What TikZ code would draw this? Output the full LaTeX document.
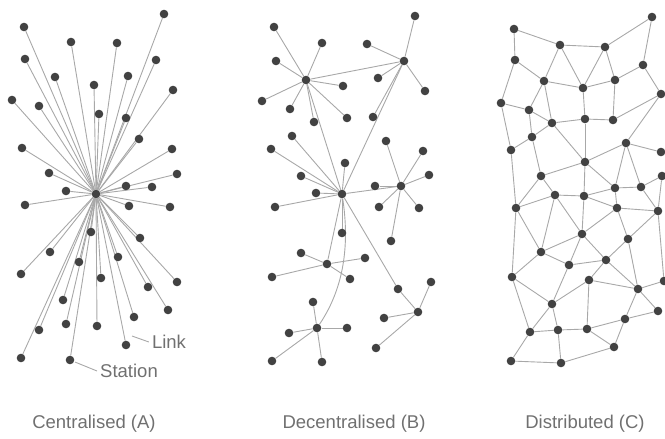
\documentclass[tikz,border=0pt]{standalone}
\usepackage{fontspec}
\setmainfont{Liberation Sans}
\usepackage{xcolor}
\usepackage{tikz}
\usetikzlibrary{positioning, calc, backgrounds}
\definecolor{NetNode}{RGB}{66, 66, 66}
\definecolor{NetLink}{RGB}{168, 168, 168}
\definecolor{NetText}{RGB}{112, 112, 112}

\begin{document}
\begin{tikzpicture}[x=1pt,y=-1pt,
    station/.style={circle, fill=NetNode, inner sep=0pt, minimum size=8.6pt},
    link/.style={NetLink, line width=0.9pt},
    caption/.style={text=NetText, font=\fontsize{18.5}{21}\selectfont, inner sep=0pt}]
  \path[use as bounding box] (0,0) rectangle (665,439);

  % centralised (A)
  \node[station] (ahub) at (96,194) {};
  \foreach \x/\y [count=\i] in {164/14, 24/27, 71/42, 117/43, 156/60, 25/59, 55/77, 128/76,
      94/85, 173/90, 12/100, 39/106, 99/114, 126/118, 139/139, 172/149, 22/148, 49/173,
      177/174, 126/186, 152/187, 66/191, 25/205, 129/206, 170/207, 91/232, 140/238, 50/252,
      79/262, 118/257, 21/274, 101/278, 177/282, 148/287, 63/300, 168/310, 134/317, 66/324,
      97/326, 39/330, 126/345, 21/358, 70/360}{
    \node[station] (a\i) at (\x,\y) {};
    \begin{pgfonlayer}{background}
      \draw[link] (ahub) -- (a\i);
    \end{pgfonlayer}
  }
  \node[caption] (linklabel) at (169,342) {Link};
  \coordinate (linkpt) at (132,336);
  \draw[link] (linkpt) -- ([xshift=-3pt]linklabel.west);
  \node[caption] (stationlabel) at (129,371) {Station};
  \draw[link, shorten <=1pt] (a43) -- ([xshift=-3pt]stationlabel.west);

  % decentralised (B)
  \foreach \h/\x/\y in {1/306/80, 2/404/61, 3/342/194, 4/401/186, 5/327/264, 6/418/312, 7/317/328}
    \node[station] (bh\h) at (\x,\y) {};
  \foreach \h/\x/\y [count=\i] in {1/274/27, 1/322/43, 1/276/61, 1/343/86, 1/262/101, 1/290/109,
      1/314/122, 1/347/118, 2/415/16, 2/367/44, 2/378/78, 2/425/91, 2/373/117,
      3/271/149, 3/292/136, 3/301/176, 3/316/193, 3/345/163, 3/275/207, 3/342/233,
      4/386/141, 4/423/151, 4/429/175, 4/375/186, 4/379/207, 4/419/208, 4/391/241,
      5/301/253, 5/365/258, 5/272/277, 5/350/279,
      6/431/282, 6/384/318, 6/376/348,
      7/313/302, 7/289/333, 7/347/328, 7/272/361, 7/322/362}{
    \node[station] (bl\i) at (\x,\y) {};
    \begin{pgfonlayer}{background}
      \draw[link] (bh\h) -- (bl\i);
    \end{pgfonlayer}
  }
  \node[station] (bmid) at (398,289) {};
  \begin{pgfonlayer}{background}
    \foreach \a/\b in {1/2, 1/3, 2/3, 3/4, 3/5}
      \draw[link] (bh\a) -- (bh\b);
    \draw[link] (bh3) -- (bmid) -- (bh6);
    \draw[link] (bh3) .. controls (349,240) and (346,285) .. (bh7);
  \end{pgfonlayer}

  % distributed (C)
  \foreach \x/\y [count=\i] in {514/29, 560/45, 605/47, 652/17, 515/60, 643/65, 544/81, 583/88,
      615/80, 661/94, 501/103, 529/110, 552/123, 585/119, 613/120, 532/137, 626/143, 511/150,
      661/152, 585/162, 541/176, 662/176, 615/188, 641/187, 555/195, 584/196, 516/208, 617/208,
      658/211, 582/234, 628/239, 541/252, 569/265, 606/260, 512/277, 589/280, 638/289, 664/281,
      552/304, 658/311, 625/319, 530/332, 558/330, 587/329, 614/347, 511/361, 561/363}
    \node[station] (c\i) at (\x,\y) {};
  \begin{pgfonlayer}{background}
    \foreach \a/\b in {1/2, 2/3, 3/4, 1/5, 4/6, 5/7, 2/7, 2/8, 3/8, 3/9, 8/9, 6/9, 6/10, 5/11,
        7/12, 7/13, 7/8, 8/14, 9/15, 10/15, 10/17, 11/12, 11/18, 12/13, 12/16, 13/14, 14/15,
        13/16, 16/18, 13/20, 14/20, 17/20, 17/19, 16/21, 20/21, 20/26, 20/23, 17/23, 17/24,
        23/24, 24/22, 21/25, 23/26, 23/28, 24/29, 28/29, 26/28, 25/27, 25/30, 26/30, 25/32,
        27/32, 27/35, 28/30, 28/31, 29/31, 30/32, 30/33, 30/34, 31/34, 32/33, 32/35, 33/34,
        33/39, 34/36, 34/37, 31/37, 35/39, 35/42, 36/39, 36/37, 36/44, 37/38, 37/40, 37/41,
        22/29, 29/38, 39/42, 39/43, 42/43, 43/44, 44/41, 41/40, 44/45, 41/45, 42/46, 43/47,
        46/47, 47/45, 18/27, 21/27, 25/26}
      \draw[link] (c\a) -- (c\b);
  \end{pgfonlayer}

  \node[caption] (capA) at (94,424) {Centralised (A)};
  \node[caption] (capB) at (354,424) {Decentralised (B)};
  \node[caption] (capC) at (585,424) {Distributed (C)};
\end{tikzpicture}
\end{document}
